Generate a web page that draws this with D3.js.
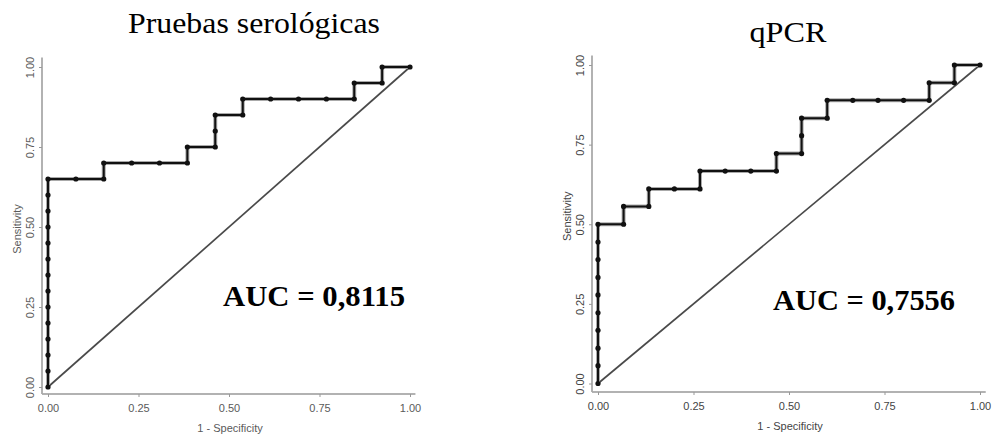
<!DOCTYPE html>
<html>
<head>
<meta charset="utf-8">
<script src="https://cdn.jsdelivr.net/npm/d3@7"></script>
<style>
body { margin: 0; background: #fff; }
svg { display: block; }
.tick text { font-family: "Liberation Sans", Arial, sans-serif; }
</style>
</head>
<body>
<div id="chart"></div>
<script>
// ROC points (1 - specificity, sensitivity)
var seroFpr = [0, 0, 0, 0, 0, 0, 0, 0, 0, 0, 0, 0, 0, 0,
	0.077, 0.154, 0.154, 0.231, 0.308, 0.385, 0.385, 0.462, 0.462, 0.462,
	0.538, 0.538, 0.615, 0.692, 0.769, 0.846, 0.846, 0.923, 0.923, 1.0];
var seroTpr = [0, 0.05, 0.10, 0.15, 0.20, 0.25, 0.30, 0.35, 0.40, 0.45, 0.50, 0.55, 0.60, 0.65,
	0.65, 0.65, 0.70, 0.70, 0.70, 0.70, 0.75, 0.75, 0.80, 0.85,
	0.85, 0.90, 0.90, 0.90, 0.90, 0.90, 0.95, 0.95, 1.0, 1.0];

var pcrFpr = [0, 0, 0, 0, 0, 0, 0, 0, 0, 0,
	0.067, 0.067, 0.133, 0.133, 0.2, 0.267, 0.267, 0.333, 0.4, 0.467, 0.467, 0.533,
	0.533, 0.533, 0.6, 0.6, 0.667, 0.733, 0.8, 0.867, 0.867, 0.933, 0.933, 1.0];
var pcrTpr = [0, 0.056, 0.111, 0.167, 0.222, 0.278, 0.333, 0.389, 0.444, 0.5,
	0.5, 0.556, 0.556, 0.611, 0.611, 0.611, 0.667, 0.667, 0.667, 0.667, 0.722, 0.722,
	0.778, 0.833, 0.833, 0.889, 0.889, 0.889, 0.889, 0.889, 0.944, 0.944, 1.0, 1.0];

var tickValues = [0, 0.25, 0.5, 0.75, 1];
var titles = ["Pruebas serológicas", "qPCR"];
var aucLabels = ["AUC = 0,8115", "AUC = 0,7556"];

var svg = d3.select("#chart").append("svg")
	.attr("width", 996)
	.attr("height", 440);

var panels = [
	{fpr: seroFpr, tpr: seroTpr, title: titles[0], auc: aucLabels[0],
		xr: [48, 410], yr: [387, 67], axisX: 42, axisY: 394,
		titleX: 254, titleY: 33, titleW: 252,
		aucX: 223, aucY: 306, labelCol: "#5a5a5a", sensShift: 2},
	{fpr: pcrFpr, tpr: pcrTpr, title: titles[1], auc: aucLabels[1],
		xr: [598, 980], yr: [383.5, 65], axisX: 592, axisY: 392,
		titleX: 788, titleY: 42, titleW: 77,
		aucX: 773, aucY: 310, labelCol: "#444", sensShift: -8}
];

panels.forEach(function(p) {
	var x = d3.scaleLinear().domain([0, 1]).range(p.xr);
	var y = d3.scaleLinear().domain([0, 1]).range(p.yr);
	var g = svg.append("g");

	// axis lines (grey, a bit longer than the data range)
	g.append("line")
		.attr("x1", p.axisX).attr("x2", x(1.015))
		.attr("y1", p.axisY).attr("y2", p.axisY)
		.attr("stroke", "#999").attr("stroke-width", 1.6);
	g.append("line")
		.attr("x1", p.axisX).attr("x2", p.axisX)
		.attr("y1", p.axisY).attr("y2", y(1.03))
		.attr("stroke", "#aaa").attr("stroke-width", 1.8);

	var xAxis = g.append("g")
		.attr("transform", "translate(0," + p.axisY + ")")
		.call(d3.axisBottom(x).tickValues(tickValues).tickFormat(d3.format(".2f")).tickSize(3).tickPadding(7));
	xAxis.select(".domain").remove();
	xAxis.selectAll(".tick line").attr("stroke", "#999");
	xAxis.selectAll(".tick text").attr("font-size", 11).attr("fill", p.labelCol);

	var yAxis = g.append("g")
		.attr("transform", "translate(" + p.axisX + ",0)")
		.call(d3.axisLeft(y).tickValues(tickValues).tickFormat(d3.format(".2f")).tickSize(3));
	yAxis.select(".domain").remove();
	yAxis.selectAll(".tick line").attr("stroke", "#999");
	yAxis.selectAll(".tick text")
		.attr("font-size", 11).attr("fill", p.labelCol)
		.attr("x", null).attr("dy", null)
		.attr("text-anchor", "middle")
		.attr("transform", "translate(-12,0) rotate(-90)")
		.attr("y", 0).attr("dy", "0.35em");

	g.append("text")
		.attr("x", (p.xr[0] + p.xr[1]) / 2 + 1)
		.attr("y", p.axisY + 38)
		.attr("text-anchor", "middle")
		.attr("font-family", "Liberation Sans, Arial, sans-serif")
		.attr("font-size", 11)
		.attr("fill", p.labelCol)
		.text("1 - Specificity");

	g.append("text")
		.attr("transform", "translate(" + (p.axisX - 25) + "," + ((p.yr[0] + p.yr[1]) / 2 + p.sensShift) + ") rotate(-90)")
		.attr("text-anchor", "middle")
		.attr("dy", "0.35em")
		.attr("font-family", "Liberation Sans, Arial, sans-serif")
		.attr("font-size", 11)
		.attr("fill", p.labelCol)
		.text("Sensitivity");

	// reference diagonal
	g.append("line")
		.attr("x1", x(0)).attr("y1", y(0))
		.attr("x2", x(1)).attr("y2", y(1))
		.attr("stroke", "#4a4a4a").attr("stroke-width", 1.7);

	var pts = p.fpr.map(function(d, i) { return [d, p.tpr[i]]; });
	var line = d3.line()
		.x(function(d) { return x(d[0]); })
		.y(function(d) { return y(d[1]); });

	g.append("path").datum(pts)
		.attr("d", line)
		.attr("fill", "none")
		.attr("stroke", "#aaa")
		.attr("stroke-width", 4);
	g.append("path").datum(pts)
		.attr("d", line)
		.attr("fill", "none")
		.attr("stroke", "#111")
		.attr("stroke-width", 2);

	g.selectAll("circle")
		.data(pts)
		.enter()
		.append("circle")
		.attr("cx", function(d) { return x(d[0]); })
		.attr("cy", function(d) { return y(d[1]); })
		.attr("r", 2.6)
		.attr("fill", "#111");

	svg.append("text")
		.attr("x", p.titleX)
		.attr("y", p.titleY)
		.attr("text-anchor", "middle")
		.attr("font-family", "Liberation Serif, Times New Roman, serif")
		.attr("font-size", 29)
		.attr("textLength", p.titleW)
		.attr("lengthAdjust", "spacingAndGlyphs")
		.text(p.title);

	svg.append("text")
		.attr("x", p.aucX)
		.attr("y", p.aucY)
		.attr("font-family", "Liberation Serif, Times New Roman, serif")
		.attr("font-weight", "bold")
		.attr("font-size", 29.5)
		.attr("textLength", 182)
		.attr("lengthAdjust", "spacingAndGlyphs")
		.text(p.auc);
});
</script>
</body>
</html>
